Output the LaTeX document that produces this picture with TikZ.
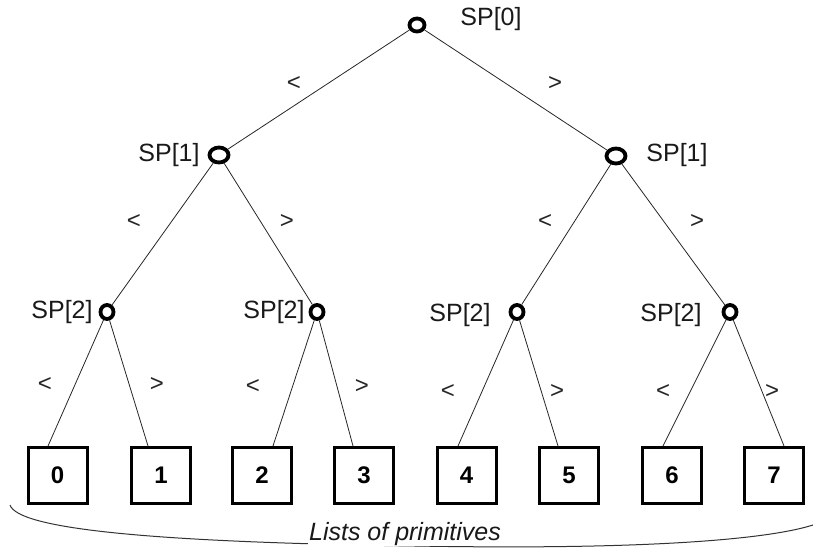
\documentclass[tikz,border=0pt]{standalone}
\usepackage{fontspec}
\setmainfont{Liberation Sans}
\usetikzlibrary{shapes.geometric}
\begin{document}
\begin{tikzpicture}[x=1pt,y=-1pt,
  splitnode/.style={ellipse,draw=black,line width=3.8pt,inner sep=0pt},
  rootnode/.style={splitnode,minimum width=15pt,minimum height=13pt},
  midnode/.style={splitnode,minimum width=19pt,minimum height=15pt},
  lownode/.style={splitnode,minimum width=13pt,minimum height=14pt},
  leafbox/.style={draw=black,line width=3pt,minimum width=59pt,minimum height=56pt,
    inner sep=0pt,font=\fontsize{24}{28}\selectfont\bfseries},
  branch/.style={draw=black!85,line width=0.8pt},
  sptext/.style={font=\fontsize{25}{30}\selectfont,text=black!90,inner sep=0pt},
  cmptext/.style={font=\fontsize{24}{28}\selectfont,text=black!85,inner sep=0pt},
]
\useasboundingbox (0,0) rectangle (813,548);

% split-plane nodes
\node[rootnode] (r) at (417,25) {};
\node[midnode] (a) at (219,155) {};
\node[midnode] (b) at (616,156) {};
\node[lownode] (a1) at (107,312) {};
\node[lownode] (a2) at (317,312) {};
\node[lownode] (b1) at (517,312) {};
\node[lownode] (b2) at (730,312) {};

% primitive lists
\node[leafbox] (l0) at (57.5,475.5) {0};
\node[leafbox] (l1) at (161,475.5) {1};
\node[leafbox] (l2) at (262,475.5) {2};
\node[leafbox] (l3) at (364,475.5) {3};
\node[leafbox] (l4) at (466.5,475.5) {4};
\node[leafbox] (l5) at (569,475.5) {5};
\node[leafbox] (l6) at (672,475.5) {6};
\node[leafbox] (l7) at (774,475.5) {7};

% branches
\draw[branch] (r) -- (a);
\draw[branch] (r) -- (b);
\draw[branch] (a) -- (a1);
\draw[branch] (a) -- (a2);
\draw[branch] (b) -- (b1);
\draw[branch] (b) -- (b2);
\draw[branch] (a1) -- ([xshift=-9.5pt]l0.north);
\draw[branch] (a1) -- ([xshift=-13pt]l1.north);
\draw[branch] (a2) -- ([xshift=11pt]l2.north);
\draw[branch] (a2) -- ([xshift=-11pt]l3.north);
\draw[branch] (b1) -- ([xshift=-8.5pt]l4.north);
\draw[branch] (b1) -- ([xshift=-11pt]l5.north);
\draw[branch] (b2) -- ([xshift=-9pt]l6.north);
\draw[branch] (b2) -- ([xshift=10pt]l7.north);

% split-plane labels
\node[sptext] (t0) at (491,19) {SP[0]};
\node[sptext] (t1) at (169,155) {SP[1]};
\node[sptext] (t2) at (677,155) {SP[1]};
\node[sptext] (t3) at (62,312) {SP[2]};
\node[sptext] (t4) at (274,312) {SP[2]};
\node[sptext] (t5) at (460,315) {SP[2]};
\node[sptext] (t6) at (671,315) {SP[2]};

% comparison labels
\node[cmptext] (c1) at (294,84) {<};
\node[cmptext] (c2) at (555,84) {>};
\node[cmptext] (c3) at (134,222) {<};
\node[cmptext] (c4) at (287,222) {>};
\node[cmptext] (c5) at (545,222) {<};
\node[cmptext] (c6) at (697,222) {>};
\node[cmptext] (c7) at (45,385) {<};
\node[cmptext] (c8) at (157,385) {>};
\node[cmptext] (c9) at (253,387) {<};
\node[cmptext] (c10) at (362,387) {>};
\node[cmptext] (c11) at (448,392) {<};
\node[cmptext] (c12) at (557,392) {>};
\node[cmptext] (c13) at (663,392) {<};
\node[cmptext] (c14) at (772,392) {>};

% brace under the lists
\coordinate (bl) at (10,505);
\coordinate (bm) at (415,546);
\coordinate (br) at (816,524);
\draw[black!80,line width=1pt] (bl) .. controls (18,528) and (140,542) .. (bm)
  .. controls (640,550) and (770,540) .. (br);
\node[font=\fontsize{25}{30}\selectfont\itshape,fill=white,inner sep=1pt,anchor=base,text=black!90]
  (cap) at (405,540) {Lists of primitives};
\end{tikzpicture}
\end{document}
